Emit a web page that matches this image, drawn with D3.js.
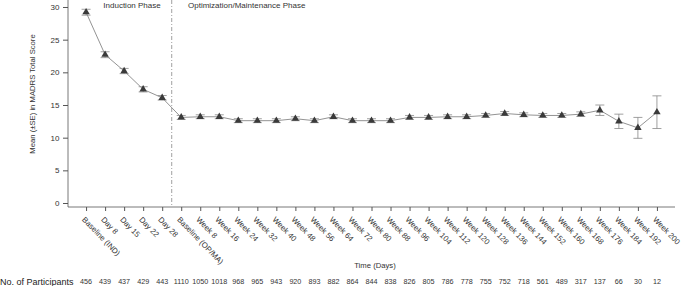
<!DOCTYPE html>
<html><head><meta charset="utf-8">
<script src="https://cdn.jsdelivr.net/npm/d3@7"></script>
<style>
body{margin:0;background:#fff;}
svg{display:block;font-family:"Liberation Sans",Arial,sans-serif;}
</style></head>
<body><svg id="c" width="681" height="286"></svg>
<script>
const labels = ["Baseline (IND)","Day 8","Day 15","Day 22","Day 28","Baseline (OP/MA)",
 "Week 8","Week 16","Week 24","Week 32","Week 40","Week 48","Week 56","Week 64","Week 72",
 "Week 80","Week 88","Week 96","Week 104","Week 112","Week 120","Week 128","Week 136",
 "Week 144","Week 152","Week 160","Week 168","Week 176","Week 184","Week 192","Week 200"];
const means = [29.2,22.7,20.2,17.4,16.1,
 13.1,13.2,13.2,12.6,12.6,12.6,12.9,12.6,13.2,12.6,12.6,12.6,13.1,13.1,13.2,13.2,13.4,13.7,13.5,13.4,13.4,13.6,14.2,12.5,11.5,13.9];
const ses = [0.45,0.45,0.4,0.4,0.35,
 0.3,0.3,0.3,0.3,0.3,0.3,0.3,0.3,0.3,0.3,0.3,0.3,0.3,0.3,0.3,0.3,0.3,0.3,0.3,0.3,0.3,0.35,0.8,1.1,1.6,2.5];
const participants = [456,439,437,429,443,1110,1050,1018,968,965,943,920,893,882,864,844,838,826,805,786,778,755,752,718,561,489,317,137,66,30,12];
const yTicks = [0,5,10,15,20,25,30];
const phaseLabels = ["Induction Phase","Optimization/Maintenance Phase"];
const nInduction = 5;

const svg = d3.select("#c");
const x = d3.scaleLinear().domain([-0.95, labels.length - 0.05]).range([68, 675]);
const y = d3.scaleLinear().domain([-0.61, 31.07]).range([207, 0]);
const axisCol = "#555";
const txtCol = "#333";

// axes
const gy = svg.append("g").attr("transform","translate(68,0)")
  .call(d3.axisLeft(y).tickValues(yTicks).tickSize(5).tickSizeOuter(0));
gy.select(".domain").remove();
gy.selectAll("line").attr("stroke",axisCol);
gy.selectAll("text").attr("font-size","8px").attr("fill",txtCol).attr("x",-8.5);
svg.append("line").attr("x1",68).attr("x2",68).attr("y1",0).attr("y2",207).attr("stroke",axisCol).attr("stroke-width",0.8);

const gx = svg.append("g").attr("transform","translate(0,207)")
  .call(d3.axisBottom(x).tickValues(d3.range(labels.length)).tickFormat(i=>labels[i]).tickSize(4).tickSizeOuter(0));
gx.select(".domain").remove();
gx.selectAll("line").attr("stroke",axisCol);
gx.selectAll("text").attr("font-size","7.8px").attr("fill",txtCol)
  .attr("text-anchor","start").attr("dy","0.35em").attr("y",0)
  .attr("transform","translate(-3,11) rotate(46)");
svg.append("line").attr("x1",68).attr("x2",675).attr("y1",207).attr("y2",207).attr("stroke",axisCol).attr("stroke-width",0.8);

// phase divider
const xDiv = x(nInduction - 0.5);
svg.append("line").attr("x1",xDiv).attr("x2",xDiv).attr("y1",0).attr("y2",207)
  .attr("stroke","#888").attr("stroke-width",0.8).attr("stroke-dasharray","4,2,1,2");
svg.append("text").attr("x",132).attr("y",8).attr("text-anchor","middle")
  .attr("font-size","8px").attr("fill",txtCol).text(phaseLabels[0]);
svg.append("text").attr("x",188).attr("y",8).attr("font-size","8px").attr("fill",txtCol).text(phaseLabels[1]);

// line
const idx = d3.range(labels.length);
svg.append("path").datum(idx).attr("fill","none").attr("stroke","#777").attr("stroke-width",0.8)
  .attr("d", d3.line().x(i=>x(i)).y(i=>y(means[i])));

// error bars
const eb = svg.append("g").attr("stroke","#888").attr("stroke-width",0.8);
idx.forEach(i=>{
  const cx = x(i), t = y(means[i]+ses[i]), b = y(means[i]-ses[i]);
  eb.append("line").attr("x1",cx).attr("x2",cx).attr("y1",t).attr("y2",b);
  eb.append("line").attr("x1",cx-4.5).attr("x2",cx+4.5).attr("y1",t).attr("y2",t);
  eb.append("line").attr("x1",cx-4.5).attr("x2",cx+4.5).attr("y1",b).attr("y2",b);
});

// markers
svg.append("g").selectAll("path").data(idx).join("path")
  .attr("transform",i=>`translate(${x(i)},${y(means[i])})`)
  .attr("d", d3.symbol().type(d3.symbolTriangle).size(24))
  .attr("fill","#3a3a3a");

// y label
svg.append("text").attr("transform","translate(35,94) rotate(-90)").attr("text-anchor","middle")
  .attr("font-size","7.7px").attr("fill",txtCol).text("Mean (\u00B1SE) in MADRS Total Score");

// x title
svg.append("text").attr("x",375).attr("y",268).attr("text-anchor","middle")
  .attr("font-size","7.7px").attr("fill",txtCol).text("Time (Days)");

// participants
svg.append("text").attr("x",0).attr("y",285).attr("font-size","9px").attr("fill","#222").text("No. of Participants");
svg.append("g").selectAll("text").data(idx).join("text")
  .attr("x",i=>x(i)).attr("y",284).attr("text-anchor","middle")
  .attr("font-size","7.2px").attr("fill",txtCol).text(i=>participants[i]);
</script></body></html>
